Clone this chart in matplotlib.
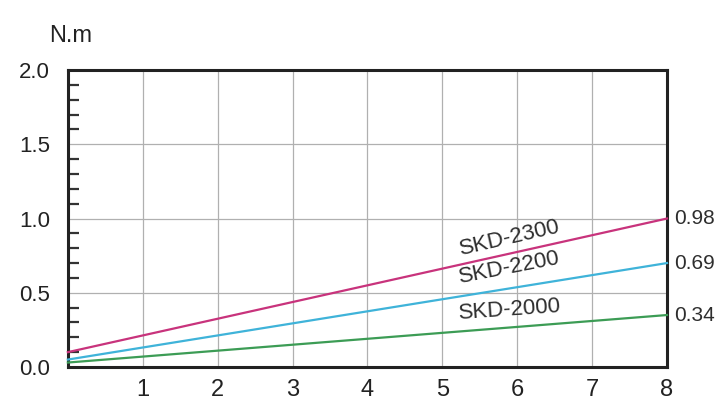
import matplotlib
matplotlib.use("Agg")
import matplotlib.pyplot as plt
import numpy as np
from matplotlib.ticker import MultipleLocator

plt.rcParams['font.family'] = ['Liberation Sans', 'DejaVu Sans']

x_vals = [0, 8]
series_names = ["SKD-2300", "SKD-2200", "SKD-2000"]
series_values = [[0.1, 1.0], [0.05, 0.70], [0.03, 0.35]]
end_labels = ["0.98", "0.69", "0.34"]
colors = ["#c8337c", "#3fb3d9", "#3c9c55"]
label_pos = [(5.9, 0.87, 13), (5.9, 0.665, 11), (5.9, 0.385, 4)]
x_ticks = [1, 2, 3, 4, 5, 6, 7, 8]
y_ticks = [0.0, 0.5, 1.0, 1.5, 2.0]

fig = plt.figure(figsize=(7.22, 4.04), dpi=100)
ax = fig.add_axes([0.094, 0.0916, 0.8298, 0.735])

for vals, c in zip(series_values, colors):
    ax.plot(x_vals, vals, color=c, lw=1.6, zorder=3, clip_on=False)

for name, (lx, ly, rot) in zip(series_names, label_pos):
    ax.text(lx, ly, name, rotation=rot, ha='center', va='center',
            fontsize=16, color='#2e2e2e', rotation_mode='anchor')

for lab, vals in zip(end_labels, series_values):
    ax.text(8.1, vals[1], lab, ha='left', va='center', fontsize=15, color='#2e2e2e')

ax.set_xlim(0, 8)
ax.set_ylim(0, 2.0)
ax.set_xticks(x_ticks)
ax.set_yticks(y_ticks)
ax.set_yticklabels([f"{v:.1f}" for v in y_ticks])
ax.yaxis.set_minor_locator(MultipleLocator(0.1))
ax.grid(True, which='major', color='#b0b0b0', lw=0.9)
ax.tick_params(axis='x', length=0, labelsize=17, pad=9, colors='#222222')
ax.tick_params(axis='y', which='major', length=0, labelsize=16, pad=13, colors='#222222')
ax.tick_params(axis='y', which='minor', direction='in', length=8, width=1.6, color='#333333')
for s in ax.spines.values():
    s.set_linewidth(2.2)
    s.set_color('#222222')

fig.text(0.068, 0.91, "N.m", fontsize=17, color='#222222', ha='left', va='center')

fig.savefig("out.png", dpi=100)
